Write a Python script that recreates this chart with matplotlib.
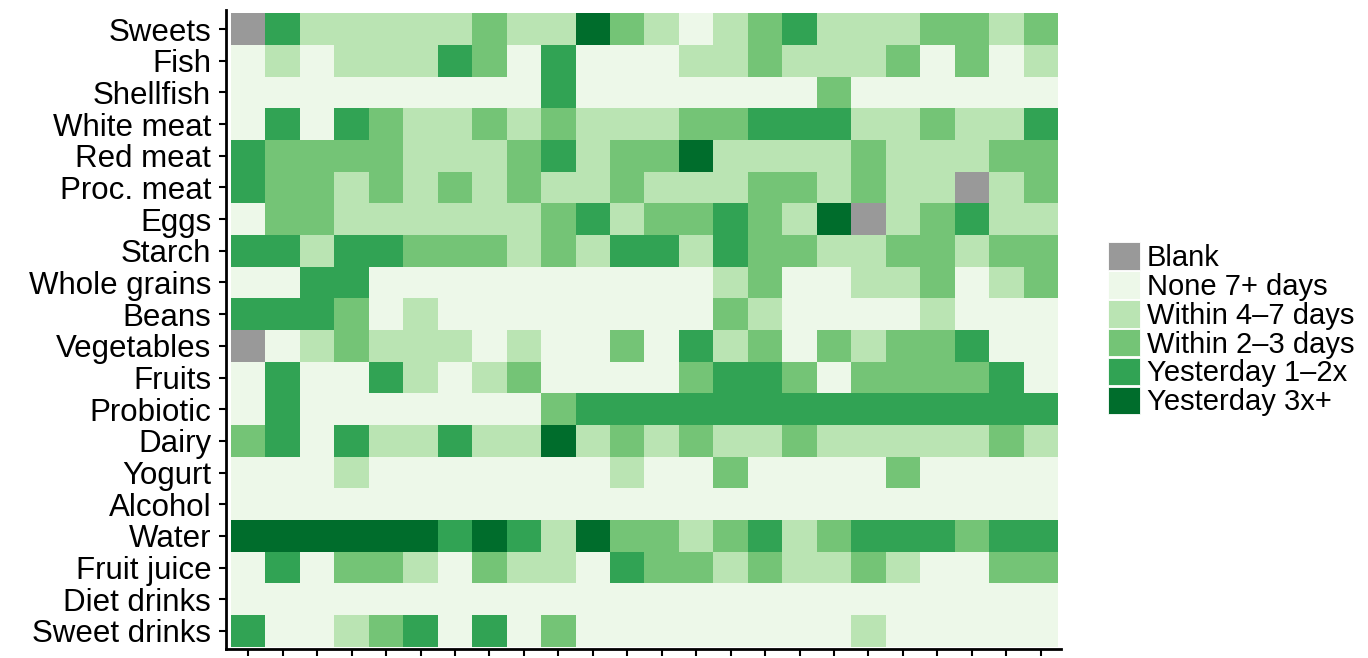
import matplotlib

matplotlib.use("Agg")
import matplotlib.pyplot as plt
import numpy as np
from matplotlib.colors import ListedColormap, BoundaryNorm
from matplotlib.patches import Patch

plt.rcParams["font.family"] = ["Liberation Sans", "DejaVu Sans"]

# food groups, top to bottom
foods = ["Sweets", "Fish", "Shellfish", "White meat", "Red meat", "Proc. meat",
         "Eggs", "Starch", "Whole grains", "Beans", "Vegetables", "Fruits",
         "Probiotic", "Dairy", "Yogurt", "Alcohol", "Water", "Fruit juice",
         "Diet drinks", "Sweet drinks"]

# 0 = blank, 1 = none 7+ days, 2 = within 4-7 days, 3 = within 2-3 days,
# 4 = yesterday 1-2x, 5 = yesterday 3x+   (one value per participant)
sweets       = [0, 4, 2, 2, 2, 2, 2, 3, 2, 2, 5, 3, 2, 1, 2, 3, 4, 2, 2, 2, 3, 3, 2, 3]
fish         = [1, 2, 1, 2, 2, 2, 4, 3, 1, 4, 1, 1, 1, 2, 2, 3, 2, 2, 2, 3, 1, 3, 1, 2]
shellfish    = [1, 1, 1, 1, 1, 1, 1, 1, 1, 4, 1, 1, 1, 1, 1, 1, 1, 3, 1, 1, 1, 1, 1, 1]
white_meat   = [1, 4, 1, 4, 3, 2, 2, 3, 2, 3, 2, 2, 2, 3, 3, 4, 4, 4, 2, 2, 3, 2, 2, 4]
red_meat     = [4, 3, 3, 3, 3, 2, 2, 2, 3, 4, 2, 3, 3, 5, 2, 2, 2, 2, 3, 2, 2, 2, 3, 3]
proc_meat    = [4, 3, 3, 2, 3, 2, 3, 2, 3, 2, 2, 3, 2, 2, 2, 3, 3, 2, 3, 2, 2, 0, 2, 3]
eggs         = [1, 3, 3, 2, 2, 2, 2, 2, 2, 3, 4, 2, 3, 3, 4, 3, 2, 5, 0, 2, 3, 4, 2, 2]
starch       = [4, 4, 2, 4, 4, 3, 3, 3, 2, 3, 2, 4, 4, 2, 4, 3, 3, 2, 2, 3, 3, 2, 3, 3]
whole_grains = [1, 1, 4, 4, 1, 1, 1, 1, 1, 1, 1, 1, 1, 1, 2, 3, 1, 1, 2, 2, 3, 1, 2, 3]
beans        = [4, 4, 4, 3, 1, 2, 1, 1, 1, 1, 1, 1, 1, 1, 3, 2, 1, 1, 1, 1, 2, 1, 1, 1]
vegetables   = [0, 1, 2, 3, 2, 2, 2, 1, 2, 1, 1, 3, 1, 4, 2, 3, 1, 3, 2, 3, 3, 4, 1, 1]
fruits       = [1, 4, 1, 1, 4, 2, 1, 2, 3, 1, 1, 1, 1, 3, 4, 4, 3, 1, 3, 3, 3, 3, 4, 1]
probiotic    = [1, 4, 1, 1, 1, 1, 1, 1, 1, 3, 4, 4, 4, 4, 4, 4, 4, 4, 4, 4, 4, 4, 4, 4]
dairy        = [3, 4, 1, 4, 2, 2, 4, 2, 2, 5, 2, 3, 2, 3, 2, 2, 3, 2, 2, 2, 2, 2, 3, 2]
yogurt       = [1, 1, 1, 2, 1, 1, 1, 1, 1, 1, 1, 2, 1, 1, 3, 1, 1, 1, 1, 3, 1, 1, 1, 1]
alcohol      = [1] * 24
water        = [5, 5, 5, 5, 5, 5, 4, 5, 4, 2, 5, 3, 3, 2, 3, 4, 2, 3, 4, 4, 4, 3, 4, 4]
fruit_juice  = [1, 4, 1, 3, 3, 2, 1, 3, 2, 2, 1, 4, 3, 3, 2, 3, 2, 2, 3, 2, 1, 1, 3, 3]
diet_drinks  = [1] * 24
sweet_drinks = [4, 1, 1, 2, 3, 4, 1, 4, 1, 3, 1, 1, 1, 1, 1, 1, 1, 1, 2, 1, 1, 1, 1, 1]

levels = ["Blank", "None 7+ days", "Within 4\u20137 days", "Within 2\u20133 days",
          "Yesterday 1\u20132x", "Yesterday 3x+"]
colors = ["#999999", "#edf8e9", "#bae4b3", "#74c476", "#31a354", "#006d2c"]

grid = np.array([sweets, fish, shellfish, white_meat, red_meat, proc_meat, eggs,
                 starch, whole_grains, beans, vegetables, fruits, probiotic, dairy,
                 yogurt, alcohol, water, fruit_juice, diet_drinks, sweet_drinks])
n_rows, n_cols = grid.shape

W, H = 1368, 658
fig = plt.figure(figsize=(W / 100, H / 100), dpi=100)
# panel in pixel coords: left, right, top, bottom
L, R, T, B = 226.5, 1061, 10, 648.7
ax = fig.add_axes([L / W, 1 - B / H, (R - L) / W, (B - T) / H])

cmap = ListedColormap(colors)
norm = BoundaryNorm(np.arange(-0.5, len(colors) + 0.5), cmap.N)
ax.pcolormesh(np.arange(n_cols + 1), np.arange(n_rows + 1), grid,
              cmap=cmap, norm=norm)

ax.set_xlim(-0.13, n_cols + 0.087)
ax.set_ylim(n_rows + 0.063, -0.104)

ax.set_xticks(np.arange(n_cols) + 0.5)
ax.set_xticklabels([])
ax.set_yticks(np.arange(n_rows) + 0.5)
ax.set_yticklabels(foods, fontsize=22.5)
ax.tick_params(axis="both", length=5.2, width=1.5, color="black", pad=5.8)

for side in ("top", "right"):
    ax.spines[side].set_visible(False)
for side in ("left", "bottom"):
    ax.spines[side].set_linewidth(2.0)

handles = [Patch(facecolor=c, edgecolor="white", linewidth=0.6) for c in colors]
fig.legend(handles, levels, loc="upper left",
           bbox_to_anchor=(1108 / W, 1 - 242 / H), frameon=False,
           fontsize=21, handlelength=1.086, handleheight=1.086,
           labelspacing=-0.03, handletextpad=0.25, borderpad=0,
           borderaxespad=0)

fig.savefig("out.png", dpi=100)
